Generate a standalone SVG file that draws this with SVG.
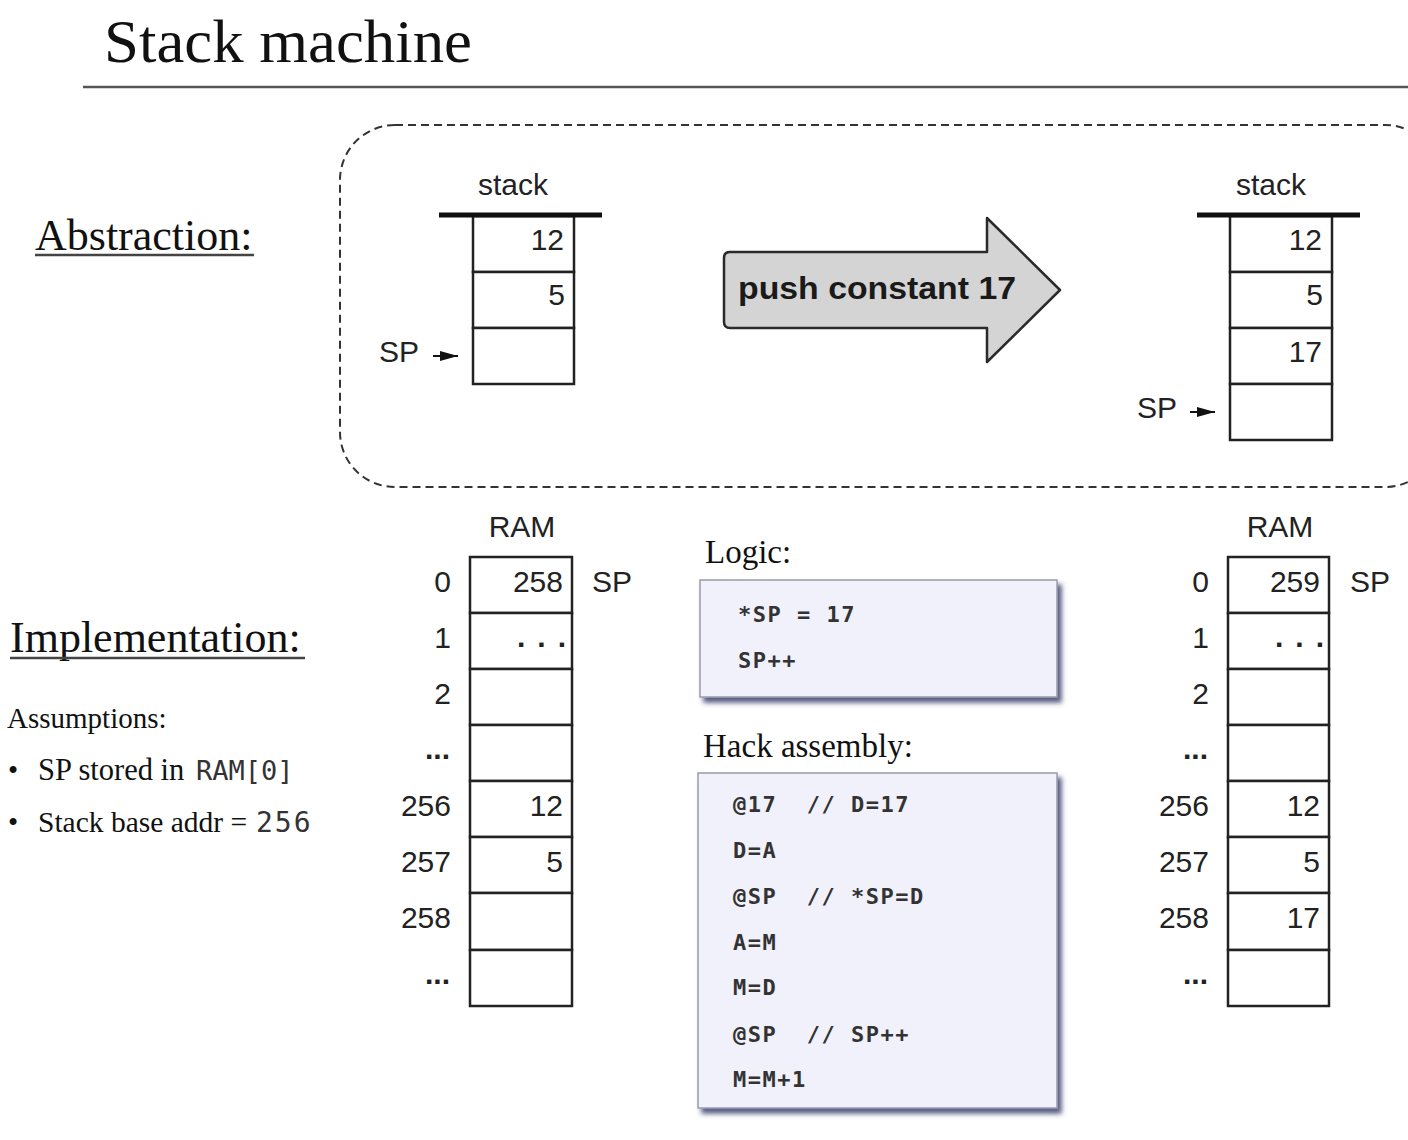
<svg xmlns="http://www.w3.org/2000/svg" width="1408" height="1140" viewBox="0 0 1408 1140">
<style>
.serif{font-family:"Liberation Serif","Times New Roman",serif;fill:#111}
.sans{font-family:"Liberation Sans",Arial,sans-serif;fill:#222;font-size:30px}
.mono{font-family:"DejaVu Sans Mono","Liberation Mono",monospace;fill:#333;font-size:22px;font-weight:bold;letter-spacing:1.5px}
.cell{fill:#fff;stroke:#222;stroke-width:2.5}
.bar{stroke:#111;stroke-width:5}
.end{text-anchor:end}
.mid{text-anchor:middle}
.dots{font-weight:bold}
.codebox{fill:#f1f1fb;stroke:#9a9aaa;stroke-width:1.5;filter:url(#sh)}
</style>
<defs>
<filter id="sh" x="-10%" y="-10%" width="125%" height="130%">
<feDropShadow dx="4" dy="5" stdDeviation="2.5" flood-color="#3a3f6e" flood-opacity="0.85"/>
</filter>
<marker id="ah" markerWidth="18" markerHeight="12" refX="18" refY="6" orient="auto" markerUnits="userSpaceOnUse">
<path d="M0,1 L18,6 L0,11 Z" fill="#111"/>
</marker>
</defs>
<rect width="1408" height="1140" fill="#fff"/>

<g id="title">
<text class="serif" x="104" y="62" font-size="62" textLength="368" lengthAdjust="spacingAndGlyphs">Stack machine</text>
<line x1="83" y1="87" x2="1408" y2="87" stroke="#555" stroke-width="2.5"/>
</g>

<g id="abstraction-label">
<text class="serif" x="35" y="250" font-size="44" fill="#333">Abstraction:</text>
<line x1="35" y1="255" x2="254" y2="255" stroke="#444" stroke-width="2.5"/>
</g>

<g id="abstraction-frame">
<rect x="340" y="125" width="1100" height="362" rx="55" ry="55" fill="none" stroke="#333" stroke-width="2" stroke-dasharray="8 5"/>
</g>

<g id="stack-before">
<text class="sans mid" x="513" y="195" font-size="32">stack</text>
<rect class="cell" x="473" y="216" width="101" height="56"/>
<rect class="cell" x="473" y="272" width="101" height="56"/>
<rect class="cell" x="473" y="328" width="101" height="56"/>
<line class="bar" x1="439" y1="215" x2="602" y2="215"/>
<text class="sans end" x="564" y="250">12</text>
<text class="sans end" x="565" y="305">5</text>
<text class="sans" x="379" y="362">SP</text>
</g>

<g id="push-arrow">
<path d="M730,252 L987,252 L987,218 L1060,290 L987,362 L987,328 L730,328 Q724,328 724,322 L724,258 Q724,252 730,252 Z" fill="#d4d4d4" stroke="#2a2a2a" stroke-width="2.5" stroke-linejoin="round"/>
<text x="738" y="299" font-family="Liberation Sans,Arial,sans-serif" font-weight="bold" font-size="31" fill="#1a1a1a" textLength="278" lengthAdjust="spacingAndGlyphs">push constant 17</text>
</g>

<g id="stack-after">
<text class="sans mid" x="1271" y="195" font-size="32">stack</text>
<rect class="cell" x="1230" y="216" width="102" height="56"/>
<rect class="cell" x="1230" y="272" width="102" height="56"/>
<rect class="cell" x="1230" y="328" width="102" height="56"/>
<rect class="cell" x="1230" y="384" width="102" height="56"/>
<line class="bar" x1="1197" y1="215" x2="1360" y2="215"/>
<text class="sans end" x="1322" y="250">12</text>
<text class="sans end" x="1323" y="305">5</text>
<text class="sans end" x="1322" y="362">17</text>
<text class="sans" x="1137" y="418">SP</text>
</g>

<g id="connectors">
<line x1="433" y1="356" x2="458" y2="356" stroke="#111" stroke-width="2" marker-end="url(#ah)"/>
<line x1="1190" y1="412" x2="1215" y2="412" stroke="#111" stroke-width="2" marker-end="url(#ah)"/>
</g>

<g id="implementation-label">
<text class="serif" x="10" y="652" font-size="44" fill="#333">Implementation:</text>
<line x1="10" y1="658" x2="305" y2="658" stroke="#444" stroke-width="2.5"/>
</g>

<g id="assumptions">
<text class="serif" x="7" y="728" font-size="29" fill="#333">Assumptions:</text>
<text class="serif" x="8" y="780" font-size="29" fill="#333">•</text>
<text class="serif" x="38" y="780" font-size="30.5" fill="#333">SP stored in</text>
<text x="196" y="780" font-family="DejaVu Sans Mono,monospace" font-size="27" fill="#333">RAM[0]</text>
<text class="serif" x="8" y="832" font-size="29" fill="#333">•</text>
<text class="serif" x="38" y="832" font-size="29.5" fill="#333">Stack base addr =</text>
<text x="256" y="832" font-family="DejaVu Sans Mono,monospace" font-size="28" letter-spacing="2" fill="#333">256</text>
</g>

<g id="ram-before">
<text class="sans mid" x="522" y="537">RAM</text>
<rect class="cell" x="470" y="557" width="102" height="56"/>
<rect class="cell" x="470" y="613" width="102" height="56"/>
<rect class="cell" x="470" y="669" width="102" height="56"/>
<rect class="cell" x="470" y="725" width="102" height="56"/>
<rect class="cell" x="470" y="781" width="102" height="56"/>
<rect class="cell" x="470" y="837" width="102" height="56"/>
<rect class="cell" x="470" y="893" width="102" height="57"/>
<rect class="cell" x="470" y="950" width="102" height="56"/>
<text class="sans end" x="451" y="592">0</text>
<text class="sans end" x="451" y="648">1</text>
<text class="sans end" x="451" y="704">2</text>
<text class="sans end dots" x="450" y="759">...</text>
<text class="sans end" x="451" y="816">256</text>
<text class="sans end" x="451" y="872">257</text>
<text class="sans end" x="451" y="928">258</text>
<text class="sans end dots" x="450" y="984">...</text>
<text class="sans end" x="563" y="592">258</text>
<text class="sans dots" x="517" y="647" letter-spacing="12">...</text>
<text class="sans end" x="563" y="816">12</text>
<text class="sans end" x="563" y="872">5</text>
<text class="sans" x="592" y="592">SP</text>
</g>

<g id="logic">
<text class="serif" x="705" y="563" font-size="33" fill="#222">Logic:</text>
<rect class="codebox" x="700" y="580" width="357" height="117"/>
<text class="mono" x="738" y="622">*SP = 17</text>
<text class="mono" x="738" y="668">SP++</text>
</g>

<g id="hack-assembly">
<text class="serif" x="703" y="757" font-size="33" fill="#222">Hack assembly:</text>
<rect class="codebox" x="698" y="773" width="359" height="335"/>
<text class="mono" x="733" y="812" xml:space="preserve">@17  // D=17</text>
<text class="mono" x="733" y="858">D=A</text>
<text class="mono" x="733" y="904" xml:space="preserve">@SP  // *SP=D</text>
<text class="mono" x="733" y="950">A=M</text>
<text class="mono" x="733" y="995">M=D</text>
<text class="mono" x="733" y="1042" xml:space="preserve">@SP  // SP++</text>
<text class="mono" x="733" y="1087">M=M+1</text>
</g>

<g id="ram-after">
<text class="sans mid" x="1280" y="537">RAM</text>
<rect class="cell" x="1228" y="557" width="101" height="56"/>
<rect class="cell" x="1228" y="613" width="101" height="56"/>
<rect class="cell" x="1228" y="669" width="101" height="56"/>
<rect class="cell" x="1228" y="725" width="101" height="56"/>
<rect class="cell" x="1228" y="781" width="101" height="56"/>
<rect class="cell" x="1228" y="837" width="101" height="56"/>
<rect class="cell" x="1228" y="893" width="101" height="57"/>
<rect class="cell" x="1228" y="950" width="101" height="56"/>
<text class="sans end" x="1209" y="592">0</text>
<text class="sans end" x="1209" y="648">1</text>
<text class="sans end" x="1209" y="704">2</text>
<text class="sans end dots" x="1208" y="759">...</text>
<text class="sans end" x="1209" y="816">256</text>
<text class="sans end" x="1209" y="872">257</text>
<text class="sans end" x="1209" y="928">258</text>
<text class="sans end dots" x="1208" y="984">...</text>
<text class="sans end" x="1320" y="592">259</text>
<text class="sans dots" x="1275" y="647" letter-spacing="12">...</text>
<text class="sans end" x="1320" y="816">12</text>
<text class="sans end" x="1320" y="872">5</text>
<text class="sans end" x="1320" y="928">17</text>
<text class="sans" x="1350" y="592">SP</text>
</g>
</svg>
